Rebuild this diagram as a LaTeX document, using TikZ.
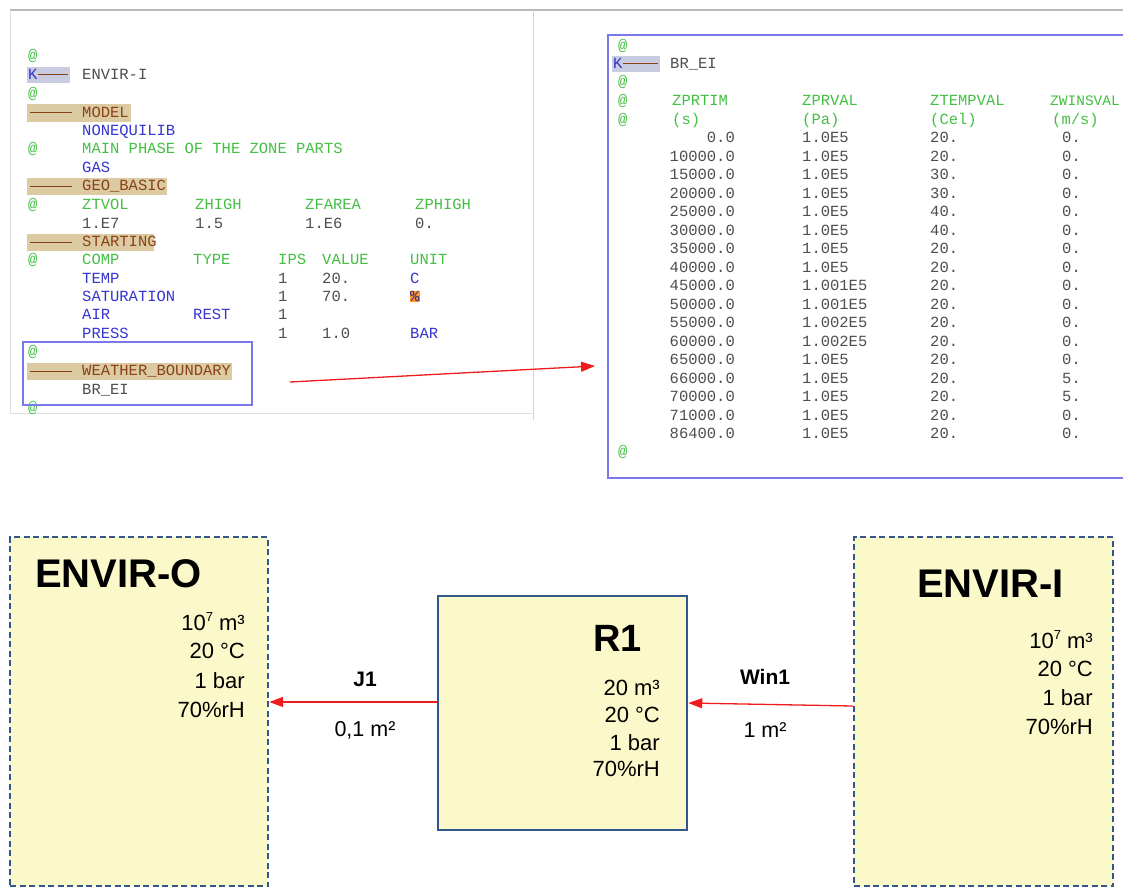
\documentclass[tikz,border=0pt]{standalone}
\usepackage{fontspec}
\setmainfont{Liberation Sans}
\newfontfamily\monofnt{Liberation Mono}
\usetikzlibrary{arrows.meta}
\definecolor{cgreen}{HTML}{45BE45}
\definecolor{cblue}{HTML}{3535D0}
\definecolor{cbrown}{HTML}{8A4218}
\definecolor{ctan}{HTML}{DCCAA2}
\definecolor{cgray}{HTML}{4E4E4E}
\definecolor{frameblue}{HTML}{7A78EC}
\definecolor{zfill}{HTML}{FBF8C9}
\definecolor{zdraw}{HTML}{34568A}
\definecolor{arrred}{HTML}{EE1C1C}
\definecolor{khl}{HTML}{C9CCE0}
\newcommand\supsev{\raisebox{0.75ex}{\fontsize{13}{13}\selectfont 7}}
\tikzset{
  codetxt/.style={font=\monofnt\fontsize{15.5}{16}\selectfont, inner sep=0pt, anchor=base west, text=cgray},
  kwtxt/.style={codetxt, text=cblue},
  cmtxt/.style={codetxt, text=cgreen},
  hdtxt/.style={codetxt, text=cbrown},
  numr/.style={codetxt, anchor=base east},
  zonebox/.style={draw=zdraw, fill=zfill, line width=2.4pt, dash pattern=on 6pt off 3.5pt, inner sep=0pt},
  roombox/.style={draw=zdraw, fill=zfill, line width=2.5pt, inner sep=0pt},
  ttl/.style={font=\bfseries\fontsize{40}{44}\selectfont, inner sep=0pt, anchor=base west},
  valtxt/.style={font=\fontsize{22}{24}\selectfont, inner sep=0pt, anchor=base east},
  lbl/.style={font=\fontsize{21.5}{24}\selectfont, inner sep=0pt},
  lblb/.style={font=\bfseries\fontsize{21}{24}\selectfont, inner sep=0pt},
  redarrow/.style={draw=arrred, line width=1.3pt, -{Triangle[length=14pt,width=10pt]}},
}
\newcommand\secline[4]{%
  \fill[ctan] (27,#2-8.5) rectangle (#3,#2+8.5);
  \draw[cbrown, line width=1pt] (30,#2) -- (72,#2);
  \node[hdtxt] (#1) at (82,#2+4.5) {#4};}
\begin{document}
\begin{tikzpicture}[x=1pt,y=-1pt]
\useasboundingbox (0,0) rectangle (1123,888);
% screenshot frame
\draw[gray!55, line width=2pt] (10,10) -- (1123,10);
\draw[gray!25, line width=1pt] (10,10) -- (10,413);
\draw[gray!25, line width=1pt] (10,413) -- (533,413);
\draw[cyan!35, line width=1pt] (533,10) -- (533,420);
% ---------- left code panel
\node[cmtxt] (l01) at (28,60.5) {@};
\fill[khl] (27,67) rectangle (70,83);
\node[kwtxt] (l02k) at (28,79.5) {K};
\draw[cbrown, line width=1pt] (38,75) -- (68,75);
\node[codetxt] (l02) at (82,79.5) {ENVIR-I};
\node[cmtxt] (l03) at (28,98.5) {@};
\secline{l04}{113}{131}{MODEL}
\node[kwtxt] (l05) at (82,135.5) {NONEQUILIB};
\node[cmtxt] (l06a) at (28,153.5) {@};
\node[cmtxt] (l06) at (82,153.5) {MAIN PHASE OF THE ZONE PARTS};
\node[kwtxt] (l07) at (82,172.5) {GAS};
\secline{l08}{186}{167}{GEO\_BASIC}
\node[cmtxt] (l09a) at (28,209.5) {@};
\node[cmtxt] (l09b) at (82,209.5) {ZTVOL};
\node[cmtxt] (l09c) at (195,209.5) {ZHIGH};
\node[cmtxt] (l09d) at (305,209.5) {ZFAREA};
\node[cmtxt] (l09e) at (415,209.5) {ZPHIGH};
\node[codetxt] (l10b) at (82,228.5) {1.E7};
\node[codetxt] (l10c) at (195,228.5) {1.5};
\node[codetxt] (l10d) at (305,228.5) {1.E6};
\node[codetxt] (l10e) at (415,228.5) {0.};
\secline{l11}{242}{154}{STARTING}
\node[cmtxt] (l12a) at (28,264.5) {@};
\node[cmtxt] (l12b) at (82,264.5) {COMP};
\node[cmtxt] (l12c) at (193,264.5) {TYPE};
\node[cmtxt] (l12d) at (278,264.5) {IPS};
\node[cmtxt] (l12e) at (322,264.5) {VALUE};
\node[cmtxt] (l12f) at (410,264.5) {UNIT};
\node[kwtxt] (l13b) at (82,283.5) {TEMP};
\node[codetxt] (l13d) at (278,283.5) {1};
\node[codetxt] (l13e) at (322,283.5) {20.};
\node[kwtxt] (l13f) at (410,283.5) {C};
\node[kwtxt] (l14b) at (82,301.5) {SATURATION};
\node[codetxt] (l14d) at (278,301.5) {1};
\node[codetxt] (l14e) at (322,301.5) {70.};
\node[codetxt, fill=orange!85, text=cblue!70!black] (l14f) at (410,301.5) {\%};
\node[kwtxt] (l15b) at (82,319.5) {AIR};
\node[kwtxt] (l15c) at (193,319.5) {REST};
\node[codetxt] (l15d) at (278,319.5) {1};
\node[kwtxt] (l16b) at (82,338.5) {PRESS};
\node[codetxt] (l16d) at (278,338.5) {1};
\node[codetxt] (l16e) at (322,338.5) {1.0};
\node[kwtxt] (l16f) at (410,338.5) {BAR};
\node[cmtxt] (l17) at (28,356.5) {@};
\secline{l18}{371}{232}{WEATHER\_BOUNDARY}
\node[codetxt] (l19) at (82,394.5) {BR\_EI};
\node[cmtxt] (l20) at (28,412.5) {@};
\node[draw=frameblue, line width=1.6pt, minimum width=229pt, minimum height=63pt, inner sep=0pt] (wb) at (137.5,373.5) {};
% ---------- right table panel
\node[draw=frameblue, line width=1.6pt, minimum width=530pt, minimum height=443pt, inner sep=0pt] (rp) at (873,256.5) {};
\node[cmtxt] (r01) at (618,50.5) {@};
\fill[khl] (612,56) rectangle (660,72);
\node[kwtxt] (r02k) at (613,68.5) {K};
\draw[cbrown, line width=1pt] (623,64) -- (658,64);
\node[codetxt] (r02) at (670,68.5) {BR\_EI};
\node[cmtxt] (r03) at (618,86.5) {@};
\node[cmtxt] (r04a) at (618,105.5) {@};
\node[cmtxt] (r04b) at (672,105.5) {ZPRTIM};
\node[cmtxt] (r04c) at (802,105.5) {ZPRVAL};
\node[cmtxt] (r04d) at (930,105.5) {ZTEMPVAL};
\node[cmtxt, font=\monofnt\fontsize{14.5}{16}\selectfont] (r04e) at (1050,105.5) {ZWINSVAL};
\node[cmtxt] (r05a) at (618,124.5) {@};
\node[cmtxt] (r05b) at (672,124.5) {(s)};
\node[cmtxt] (r05c) at (802,124.5) {(Pa)};
\node[cmtxt] (r05d) at (930,124.5) {(Cel)};
\node[cmtxt] (r05e) at (1052,124.5) {(m/s)};
\foreach \tt/\pp/\cc/\ww [count=\i] in {
  0.0/1.0E5/20./0., 10000.0/1.0E5/20./0., 15000.0/1.0E5/30./0.,
  20000.0/1.0E5/30./0., 25000.0/1.0E5/40./0., 30000.0/1.0E5/40./0.,
  35000.0/1.0E5/20./0., 40000.0/1.0E5/20./0., 45000.0/1.001E5/20./0.,
  50000.0/1.001E5/20./0., 55000.0/1.002E5/20./0., 60000.0/1.002E5/20./0.,
  65000.0/1.0E5/20./0., 66000.0/1.0E5/20./5., 70000.0/1.0E5/20./5.,
  71000.0/1.0E5/20./0., 86400.0/1.0E5/20./0.}{
  \pgfmathsetmacro{\yy}{142.5+(\i-1)*18.5}
  \node[numr] (t\i) at (735,\yy) {\tt};
  \node[codetxt] (p\i) at (802,\yy) {\pp};
  \node[codetxt] (c\i) at (930,\yy) {\cc};
  \node[codetxt] (w\i) at (1062,\yy) {\ww};
}
\node[cmtxt] (r99) at (618,456.5) {@};
% red link arrow
\coordinate (a1s) at (290,382);
\coordinate (a1e) at (595,366);
\draw[redarrow] (a1s) -- (a1e);
% ---------- bottom zone diagram
\node[zonebox, minimum width=258pt, minimum height=349pt] (eo) at (139,711.5) {};
\node[zonebox, minimum width=259pt, minimum height=349pt] (ei) at (983.5,711.5) {};
\node[roombox, minimum width=249pt, minimum height=234pt] (r1) at (562.5,713) {};
\node[ttl] (eot) at (35,587) {ENVIR-O};
\node[valtxt] (eo1) at (245,630) {10\supsev{} m³};
\node[valtxt] (eo2) at (245,658) {20 °C};
\node[valtxt] (eo3) at (245,688) {1 bar};
\node[valtxt] (eo4) at (245,717) {70\%rH};
\node[ttl, font=\bfseries\fontsize{38}{44}\selectfont] (r1t) at (593,651) {R1};
\node[valtxt] (r11) at (660,695) {20 m³};
\node[valtxt] (r12) at (660,722) {20 °C};
\node[valtxt] (r13) at (660,750) {1 bar};
\node[valtxt] (r14) at (660,776) {70\%rH};
\node[ttl] (eit) at (917,597) {ENVIR-I};
\node[valtxt] (ei1) at (1093,648) {10\supsev{} m³};
\node[valtxt] (ei2) at (1093,676) {20 °C};
\node[valtxt] (ei3) at (1093,705) {1 bar};
\node[valtxt] (ei4) at (1093,734) {70\%rH};
\draw[redarrow] ([yshift=11pt]r1.west) -- ([yshift=9.5pt]eo.east);
\draw[redarrow] ([yshift=5.5pt]ei.west) -- ([yshift=10pt]r1.east);
\node[lblb] (j1) at (365,679) {J1};
\node[lbl] (j1a) at (365,730) {0,1 m²};
\node[lblb] (w1) at (765,677) {Win1};
\node[lbl] (w1a) at (765,730) {1 m²};
\end{tikzpicture}
\end{document}
